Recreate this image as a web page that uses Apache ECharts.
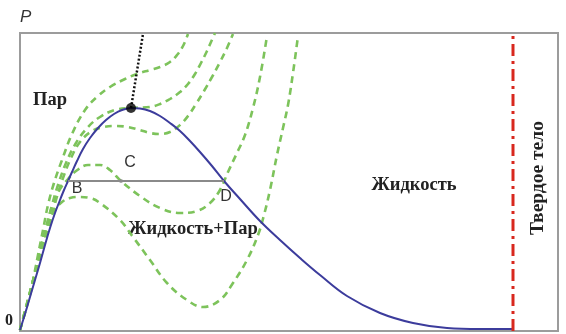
<!DOCTYPE html>
<html>
<head>
<meta charset="utf-8">
<script src="https://cdn.jsdelivr.net/npm/echarts@6/dist/echarts.min.js"></script>
<style>
  html, body { margin: 0; padding: 0; background: #fff; }
  #chart { width: 566px; height: 334px; }
</style>
</head>
<body>
<div id="chart"></div>
<script>
// Binodal (coexistence curve), density on x, pressure on y (arbitrary units)
const binodal = [
  [0,1],[5,17],[10,34],[15,51],[20,68],[25,86],[30,103],[35,118],[40,131],[44,141],
  [48,150],[52,159],[57,170],[63,182],[70,193],[78,203],[86,211],[94,217],[102,221],
  [111,223],[120,222.5],[130,220],[140,215],[150,208],[160,200],[170,190],[180,179],
  [192,165],[204,150],[220,132],[240,110],[260,91],[280,73],[300,56],[327,35],
  [360,18],[393,8],[427,3],[460,2],[493,2]
];

// Isotherms, lowest temperature first
const isoT1 = [
  [0,1],[8,31],[15,58],[21,83],[27,105],[34,120],[42,129],[50,133],[60,134],[70,133],
  [80,128],[100,111],[113,94],[130,71],[147,48],[167,31],[183,24],[200,31],[213,48],
  [227,71],[238,96],[244,116],[250,141],[257,176],[263,203],[268,226],[273,258],[278,295]
];
const isoT2 = [
  [0,1],[8,31],[15,58],[21,83],[27,107],[33,127],[40,142],[48,152],[56,160],[68,166],
  [80,166],[90,161],[101,150],[120,135],[140,123],[160,118],[177,120],[190,128],
  [200,141],[208,159],[216,176],[225,196],[233,223],[240,254],[247,295]
];
const isoT3 = [
  [0,1],[8,29],[15,55],[22,81],[29,105],[36,131],[43,153],[51,173],[60,189],[72,200],
  [84,204],[96,205],[108,204],[120,201],[130,198],[140,197],[150,199],[160,206],
  [168,215],[176,227],[184,240],[192,254],[200,269],[207,283],[213,297]
];
const isoCritical = [
  [0,1],[7,28],[14,54],[20,79],[26,103],[32,126],[38,146],[46,168],[56,188],[68,204],
  [80,214],[95,221],[111,223],[130,224],[140,227],[150,232],[160,239],[168,247],
  [175,257],[181,268],[187,280],[191,289],[195,298]
];
const isoT5 = [
  [0,1],[7,26],[13,51],[18,76],[23,101],[28,126],[34,148],[42,171],[52,197],[65,221],
  [78,235],[90,244],[105,252],[117,257],[130,261],[140,264],[150,269],[157,276],
  [163,285],[168,297]
];

// Critical point and the critical-density line above it
const criticalPoint = [111, 223];
const criticalLine = [[111, 223], [123, 297]];

// Maxwell tie line B–D with midpoint C
const tieLine = [[48, 150], [204, 150]];
const pointC = [101, 150];

// Solid boundary
const solidLine = [[493, 0], [493, 298]];

const isotherms = [isoT1, isoT2, isoT3, isoCritical, isoT5];

const chart = echarts.init(document.getElementById('chart'));

const green = '#7dc35b';
const series = isotherms.map(d => ({
  type: 'line',
  data: d,
  smooth: 0.4,
  showSymbol: false,
  silent: true,
  lineStyle: { color: green, width: 2.6, type: [7, 5] },
  z: 2
}));

series.push(
  {
    type: 'line',
    data: binodal,
    smooth: 0.4,
    showSymbol: false,
    lineStyle: { color: '#3c3c9c', width: 2 },
    z: 3
  },
  {
    type: 'line',
    data: tieLine,
    showSymbol: false,
    lineStyle: { color: '#8a8a8a', width: 2 },
    z: 4
  },
  {
    type: 'scatter',
    data: [pointC],
    symbolSize: 4,
    itemStyle: { color: '#8a8a8a' },
    z: 5
  },
  {
    type: 'line',
    data: criticalLine,
    showSymbol: false,
    lineStyle: { color: '#111', width: 2.5, type: [2, 2] },
    z: 4
  },
  {
    type: 'scatter',
    data: [criticalPoint],
    symbolSize: 10,
    itemStyle: { color: '#000' },
    z: 6
  },
  {
    type: 'line',
    data: solidLine,
    showSymbol: false,
    lineStyle: { color: '#d8281e', width: 3, type: [12, 5, 3, 5] },
    z: 4
  }
);

const serifBold = { fontFamily: '"Liberation Serif", "DejaVu Serif", serif', fontWeight: 'bold', fontSize: 18.5, fill: '#222' };
const sans = { fontFamily: '"Liberation Sans", Arial, sans-serif', fontSize: 16, fill: '#333' };

chart.setOption({
  animation: false,
  grid: { left: 20, right: 8, top: 33, bottom: 3, show: true, borderColor: '#9c9c9c', borderWidth: 2 },
  xAxis: {
    type: 'value', min: 0, max: 538,
    axisLine: { show: false }, axisTick: { show: false }, axisLabel: { show: false }, splitLine: { show: false }
  },
  yAxis: {
    type: 'value', min: 0, max: 298,
    axisLine: { show: false }, axisTick: { show: false }, axisLabel: { show: false }, splitLine: { show: false }
  },
  series: series,
  graphic: [
    { type: 'text', left: 20, top: 9, style: { text: 'P', font: 'italic 17px "Liberation Sans", Arial, sans-serif', fill: '#333' } },
    { type: 'text', left: 5, top: 313, style: Object.assign({}, serifBold, { text: '0', fontSize: 16 }) },
    { type: 'text', x: 50, y: 100, style: Object.assign({}, serifBold, { text: 'Пар', align: 'center', verticalAlign: 'middle' }) },
    { type: 'text', x: 193, y: 229, style: Object.assign({}, serifBold, { text: 'Жидкость+Пар', align: 'center', verticalAlign: 'middle' }) },
    { type: 'text', x: 414, y: 185, style: Object.assign({}, serifBold, { text: 'Жидкость', align: 'center', verticalAlign: 'middle' }) },
    { type: 'text', x: 538, y: 178, rotation: Math.PI / 2, style: Object.assign({}, serifBold, { text: 'Твердое тело', fontSize: 19.5, align: 'center', verticalAlign: 'middle' }) },
    { type: 'text', x: 77, y: 189, style: Object.assign({}, sans, { text: 'B', align: 'center', verticalAlign: 'middle' }) },
    { type: 'text', x: 130, y: 163, style: Object.assign({}, sans, { text: 'C', align: 'center', verticalAlign: 'middle' }) },
    { type: 'text', x: 226, y: 197, style: Object.assign({}, sans, { text: 'D', align: 'center', verticalAlign: 'middle' }) }
  ]
});
</script>
</body>
</html>
